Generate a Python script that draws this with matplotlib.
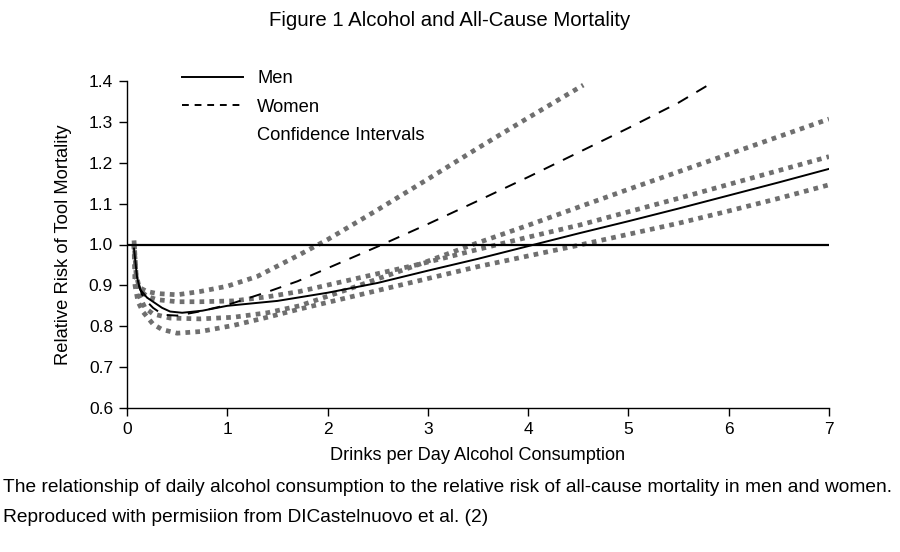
import matplotlib
matplotlib.use("Agg")
import matplotlib.pyplot as plt
from matplotlib.lines import Line2D

plt.rcParams['font.family'] = ['Liberation Sans', 'DejaVu Sans']

# curves (drinks per day, relative risk)
men_x = [0.07, 0.10, 0.13, 0.20, 0.26, 0.35, 0.43, 0.55, 0.75, 1.0, 1.5, 2.0, 2.5, 3.0, 3.5, 4.0, 4.5, 5.0, 5.5, 6.0, 6.5, 7.0]
men_rr = [0.99, 0.92, 0.89, 0.87, 0.86, 0.845, 0.836, 0.833, 0.838, 0.85, 0.862, 0.882, 0.906, 0.936, 0.965, 0.996, 1.027, 1.057, 1.088, 1.12, 1.152, 1.185]

women_x = [0.12, 0.15, 0.20, 0.26, 0.36, 0.5, 0.7, 1.0, 1.4, 1.7, 2.0, 2.5, 3.0, 3.5, 4.0, 4.5, 5.0, 5.5, 5.85]
women_rr = [0.90, 0.877, 0.86, 0.845, 0.828, 0.826, 0.835, 0.852, 0.884, 0.91, 0.942, 0.995, 1.05, 1.107, 1.165, 1.225, 1.285, 1.347, 1.398]

# confidence intervals
wu_x = [0.07, 0.09, 0.12, 0.2, 0.3, 0.5, 0.73, 1.0, 1.3, 1.72, 2.0, 2.5, 3.0, 3.5, 4.0, 4.55]
wu_rr = [1.01, 0.93, 0.895, 0.885, 0.88, 0.877, 0.885, 0.898, 0.922, 0.975, 1.012, 1.085, 1.16, 1.236, 1.31, 1.39]

mu_x = [0.07, 0.09, 0.12, 0.2, 0.3, 0.5, 0.73, 1.06, 1.4, 1.72, 2.2, 2.92, 3.5, 4.0, 4.52, 5.0, 5.5, 6.0, 6.5, 7.0]
mu_rr = [1.0, 0.92, 0.89, 0.873, 0.865, 0.86, 0.86, 0.862, 0.872, 0.885, 0.912, 0.952, 0.988, 1.018, 1.048, 1.08, 1.113, 1.147, 1.181, 1.215]

wl_x = [0.07, 0.09, 0.12, 0.18, 0.26, 0.43, 0.73, 1.06, 1.4, 1.72, 2.2, 2.92, 3.45, 4.0, 4.52, 5.0, 5.5, 6.0, 6.5, 7.0]
wl_rr = [1.0, 0.92, 0.875, 0.845, 0.83, 0.82, 0.818, 0.822, 0.833, 0.85, 0.89, 0.952, 1.0, 1.047, 1.093, 1.135, 1.178, 1.221, 1.264, 1.307]

ml_x = [0.07, 0.08, 0.11, 0.16, 0.26, 0.35, 0.5, 0.73, 1.06, 1.4, 1.72, 2.2, 2.92, 3.5, 4.0, 4.5, 5.0, 5.5, 6.0, 6.5, 7.0]
ml_rr = [1.0, 0.9, 0.86, 0.835, 0.805, 0.792, 0.783, 0.787, 0.802, 0.822, 0.842, 0.87, 0.912, 0.946, 0.972, 0.998, 1.025, 1.052, 1.082, 1.113, 1.146]

xticks = [0, 1, 2, 3, 4, 5, 6, 7]
yticks = [0.6, 0.7, 0.8, 0.9, 1.0, 1.1, 1.2, 1.3, 1.4]

fig = plt.figure(figsize=(9, 5.52), dpi=100)
ax = fig.add_axes([127/900, 1 - 408/552, 702/900, 327/552])

ci_style = dict(color='#6f6f6f', lw=3.4, linestyle=(0, (1, 1.1)), solid_capstyle='butt')
for cx, cy in [(wu_x, wu_rr), (mu_x, mu_rr), (wl_x, wl_rr), (ml_x, ml_rr)]:
    ax.plot(cx, cy, **ci_style)

ax.axhline(1.0, color='black', lw=1.6)
ax.plot(men_x, men_rr, color='black', lw=1.4)
ax.plot(women_x, women_rr, color='black', lw=1.4, linestyle=(0, (6, 5)))

ax.set_xlim(0, 7)
ax.set_ylim(0.6, 1.4)
ax.set_xticks(xticks)
ax.set_xticklabels([str(t) for t in xticks])
ax.set_yticks(yticks)
ax.set_yticklabels(['%.1f' % t for t in yticks])
ax.tick_params(direction='out', length=6, width=1, labelsize=12.5, pad=4)
for s in ['top', 'right']:
    ax.spines[s].set_visible(False)
for s in ['left', 'bottom']:
    ax.spines[s].set_linewidth(1)

ax.set_xlabel('Drinks per Day Alcohol Consumption', fontsize=13.1, labelpad=7)
ax.set_ylabel('Relative Risk of Tool Mortality', fontsize=13.2, labelpad=12)

handles = [Line2D([], [], color='black', lw=1.4),
           Line2D([], [], color='black', lw=1.4, linestyle=(0, (3.5, 3))),
           Line2D([], [], linestyle='none')]
ax.legend(handles, ['Men', 'Women', 'Confidence Intervals'], loc='upper left',
          bbox_to_anchor=(182/900, 1 - 70/552), bbox_transform=fig.transFigure,
          frameon=False, fontsize=13.2, handlelength=3.3, handletextpad=0.8,
          labelspacing=0.64, borderpad=0, borderaxespad=0)

fig.text(0.5, 1 - 20/552, 'Figure 1 Alcohol and All-Cause Mortality', ha='center', va='center', fontsize=14.7)
fig.text(3/900, 1 - 487/552, 'The relationship of daily alcohol consumption to the relative risk of all-cause mortality in men and women.',
         ha='left', va='center', fontsize=13.8)
fig.text(3/900, 1 - 517/552, 'Reproduced with permisiion from DICastelnuovo et al. (2)',
         ha='left', va='center', fontsize=13.8)

fig.savefig('out.png', dpi=100)
